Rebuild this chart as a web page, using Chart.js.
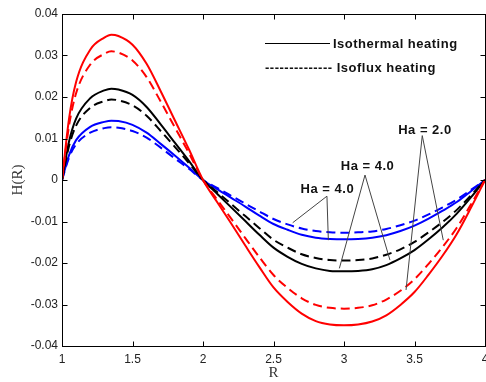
<!DOCTYPE html>
<html>
<head>
<meta charset="utf-8">
<script src="https://cdn.jsdelivr.net/npm/chart.js@4.4.0/dist/chart.umd.min.js"></script>
<style>
html, body { margin: 0; padding: 0; background: #fff; }
</style>
</head>
<body>
<canvas id="grafico" width="486" height="382"></canvas>
<script>
// valores de R (eje x)
const radios = [1.0, 1.05, 1.1, 1.2, 1.3, 1.35, 1.4, 1.5, 1.6, 1.7, 1.8, 1.9, 2.0, 2.1, 2.2, 2.3, 2.4, 2.5, 2.6, 2.7, 2.8, 2.9, 3.0, 3.1, 3.2, 3.3, 3.4, 3.5, 3.6, 3.7, 3.8, 3.9, 4.0];

// Ha = 2.0
const rojoIsoterm = [0, 0.0148, 0.0236, 0.0314, 0.0343, 0.0350, 0.0347, 0.0326, 0.0280, 0.0214, 0.0144, 0.0074, 0, -0.0053, -0.0105, -0.0158, -0.0210, -0.0259, -0.0294, -0.0322, -0.0340, -0.0348, -0.0350, -0.0348, -0.0341, -0.0326, -0.0301, -0.0270, -0.0228, -0.0182, -0.0130, -0.0067, 0];
const rojoIsoflux = [0, 0.0131, 0.0209, 0.0278, 0.0304, 0.0310, 0.0307, 0.0288, 0.0248, 0.0189, 0.0127, 0.0065, 0, -0.0047, -0.0093, -0.0140, -0.0186, -0.0229, -0.0260, -0.0285, -0.0301, -0.0308, -0.0310, -0.0308, -0.0302, -0.0288, -0.0267, -0.0239, -0.0202, -0.0161, -0.0115, -0.0059, 0];
// Ha = 4.0
const negroIsoterm = [0, 0.0093, 0.0148, 0.0197, 0.0216, 0.0220, 0.0218, 0.0205, 0.0176, 0.0134, 0.0090, 0.0046, 0, -0.0033, -0.0066, -0.0099, -0.0132, -0.0163, -0.0185, -0.0202, -0.0213, -0.0219, -0.0220, -0.0219, -0.0215, -0.0205, -0.0189, -0.0169, -0.0143, -0.0114, -0.0081, -0.0042, 0];
const negroIsoflux = [0, 0.0082, 0.0131, 0.0174, 0.0190, 0.0194, 0.0192, 0.0180, 0.0155, 0.0118, 0.0080, 0.0041, 0, -0.0029, -0.0058, -0.0087, -0.0116, -0.0144, -0.0163, -0.0179, -0.0188, -0.0193, -0.0194, -0.0193, -0.0189, -0.0180, -0.0167, -0.0149, -0.0126, -0.0101, -0.0072, -0.0037, 0];
// Ha = 4.0 (azul)
const azulIsoterm = [0, 0.0060, 0.0096, 0.0128, 0.0140, 0.0143, 0.0142, 0.0133, 0.0114, 0.0087, 0.0059, 0.0030, 0, -0.0022, -0.0043, -0.0064, -0.0086, -0.0106, -0.0120, -0.0132, -0.0139, -0.0142, -0.0143, -0.0142, -0.0139, -0.0133, -0.0123, -0.0110, -0.0093, -0.0074, -0.0053, -0.0027, 0];
const azulIsoflux = [0, 0.0054, 0.0086, 0.0114, 0.0125, 0.0127, 0.0126, 0.0118, 0.0102, 0.0078, 0.0052, 0.0027, 0, -0.0019, -0.0038, -0.0057, -0.0076, -0.0094, -0.0107, -0.0117, -0.0123, -0.0126, -0.0127, -0.0126, -0.0124, -0.0118, -0.0109, -0.0098, -0.0083, -0.0066, -0.0047, -0.0024, 0];

const ticksX = [1, 1.5, 2, 2.5, 3, 3.5, 4];
const ticksY = [-0.04, -0.03, -0.02, -0.01, 0, 0.01, 0.02, 0.03, 0.04];

// anotaciones (coordenadas de datos)
const notas = [
    { texto: 'Ha = 2.0', en: [3.574, 0.0111], vertice: [3.555, 0.0107], puntas: [[3.44, -0.0265], [3.704, -0.0145]] },
    { texto: 'Ha = 4.0', en: [3.167, 0.0024], vertice: [3.149, 0.0012], puntas: [[2.967, -0.0213], [3.326, -0.0193]] },
    { texto: 'Ha = 4.0', en: [2.882, -0.0031], vertice: [2.879, -0.0039], puntas: [[2.636, -0.0103], [2.889, -0.0145]] }
];

const puntos = arr => radios.map((r, i) => ({ x: r, y: arr[i] }));

function serie(datos, color, discontinua) {
    return {
        data: puntos(datos),
        borderColor: color,
        borderWidth: 2,
        borderDash: discontinua ? [9, 5] : [],
        pointRadius: 0,
        cubicInterpolationMode: 'monotone',
        fill: false
    };
}

// marco, ticks interiores, leyenda y anotaciones
const marco = {
    id: 'marco',
    afterDatasetsDraw(chart) {
        const { ctx, chartArea: a, scales: { x, y } } = chart;
        const L = Math.round(a.left) + 0.5, R = Math.round(a.right) + 0.5;
        const T = Math.round(a.top) + 0.5, B = Math.round(a.bottom) + 0.5;
        ctx.save();
        ctx.strokeStyle = '#000';
        ctx.lineWidth = 1;
        ctx.setLineDash([]);
        ctx.strokeRect(L, T, R - L, B - T);
        ctx.beginPath();
        ticksX.forEach(v => {
            const px = Math.round(x.getPixelForValue(v)) + 0.5;
            ctx.moveTo(px, B); ctx.lineTo(px, B - 5);
            ctx.moveTo(px, T); ctx.lineTo(px, T + 5);
        });
        ticksY.forEach(v => {
            const py = Math.round(y.getPixelForValue(v)) + 0.5;
            ctx.moveTo(L, py); ctx.lineTo(L + 5, py);
            ctx.moveTo(R, py); ctx.lineTo(R - 5, py);
        });
        ctx.stroke();

        // leyenda
        ctx.font = 'bold 13px "Liberation Sans", Arial, sans-serif';
        ctx.letterSpacing = '0.5px';
        ctx.fillStyle = '#111';
        ctx.textBaseline = 'alphabetic';
        ctx.beginPath();
        ctx.moveTo(a.left + 203, a.top + 29.5);
        ctx.lineTo(a.left + 268, a.top + 29.5);
        ctx.stroke();
        ctx.textAlign = 'left';
        ctx.fillText('Isothermal heating', a.left + 271, a.top + 34);
        ctx.fillText('-------------- Isoflux heating', a.left + 203, a.top + 58);

        // anotaciones
        ctx.strokeStyle = '#444';
        notas.forEach(n => {
            const vx = x.getPixelForValue(n.vertice[0]), vy = y.getPixelForValue(n.vertice[1]);
            ctx.beginPath();
            n.puntas.forEach(p => {
                ctx.moveTo(vx, vy);
                ctx.lineTo(x.getPixelForValue(p[0]), y.getPixelForValue(p[1]));
            });
            ctx.stroke();
            ctx.textAlign = 'center';
            ctx.fillText(n.texto, x.getPixelForValue(n.en[0]), y.getPixelForValue(n.en[1]));
        });
        ctx.restore();
    }
};

const fuenteTicks = { family: '"Liberation Sans", Arial, sans-serif', size: 12 };

new Chart(document.querySelector('#grafico'), {
    type: 'line',
    data: {
        datasets: [
            serie(rojoIsoterm, '#ff0000', false),
            serie(rojoIsoflux, '#ff0000', true),
            serie(negroIsoterm, '#000000', false),
            serie(negroIsoflux, '#000000', true),
            serie(azulIsoterm, '#0000ff', false),
            serie(azulIsoflux, '#0000ff', true)
        ]
    },
    options: {
        responsive: false,
        animation: false,
        layout: { padding: { left: 0, right: 1, top: 14, bottom: 0 } },
        plugins: {
            legend: { display: false },
            tooltip: { enabled: false }
        },
        scales: {
            x: {
                type: 'linear',
                min: 1,
                max: 4,
                grid: { display: false, drawTicks: false },
                border: { display: false },
                afterFit: s => { s.height = 36; s.paddingLeft = 0; s.paddingRight = 0; },
                afterBuildTicks: s => { s.ticks = ticksX.map(v => ({ value: v })); },
                ticks: {
                    padding: 6,
                    color: '#222',
                    font: fuenteTicks,
                    callback: v => String(v)
                },
                title: {
                    display: true,
                    text: 'R',
                    color: '#333',
                    font: { family: '"Liberation Serif", "Times New Roman", serif', size: 15 },
                    padding: { top: 0, bottom: 0 }
                }
            },
            y: {
                min: -0.04,
                max: 0.04,
                grid: { display: false, drawTicks: false },
                border: { display: false },
                afterFit: s => { s.width = 62; },
                afterBuildTicks: s => { s.ticks = ticksY.map(v => ({ value: v })); },
                ticks: {
                    padding: 4,
                    color: '#222',
                    font: fuenteTicks,
                    callback: v => Math.abs(v) < 1e-9 ? '0' : v.toFixed(2)
                },
                title: {
                    display: true,
                    text: 'H(R)',
                    color: '#333',
                    font: { family: '"Liberation Serif", "Times New Roman", serif', size: 15 },
                    padding: { top: 9, bottom: 0 }
                }
            }
        }
    },
    plugins: [marco]
});
</script>
</body>
</html>
